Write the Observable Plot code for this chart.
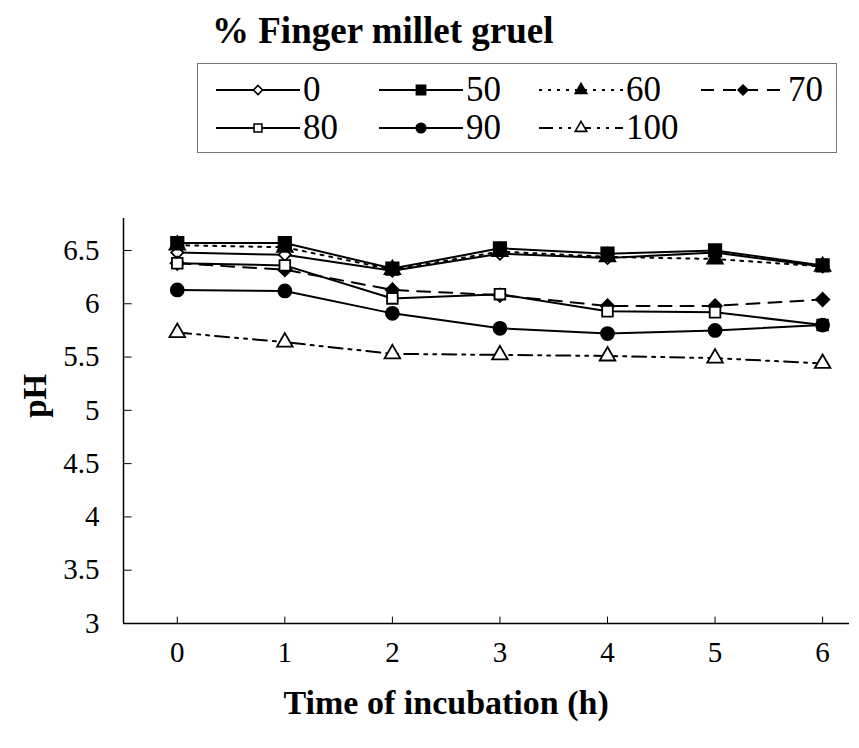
<!DOCTYPE html>
<html><head><meta charset="utf-8">
<script src="https://cdn.jsdelivr.net/npm/d3@7"></script>
<script src="https://cdn.jsdelivr.net/npm/@observablehq/plot@0.6"></script>
<style>
body{margin:0;background:#fff;font-family:"Liberation Serif","Times New Roman",serif;color:#000;}
#header{position:relative;height:190px;width:859px;}
#title{position:absolute;left:212px;top:12px;font-weight:bold;font-size:37px;line-height:1;white-space:nowrap;}
#legend{position:absolute;left:197px;top:63px;width:640px;height:90px;border:1px solid #777;box-sizing:border-box;}
.item{position:absolute;display:flex;align-items:center;font-size:35px;line-height:1;white-space:nowrap;}
.item svg{display:block;margin-right:3px;}
#chart svg{display:block;}
#chart svg, #chart svg text{font-family:"Liberation Serif","Times New Roman",serif !important;}
</style></head>
<body>
<div id="header">
  <div id="title">% Finger millet gruel</div>
  <div id="legend"></div>
</div>
<div id="chart"></div>
<script>
// Data
const hours = [0, 1, 2, 3, 4, 5, 6];
const seriesNames = ["0", "50", "60", "70", "80", "90", "100"];
const ph0   = [6.48, 6.46, 6.31, 6.47, 6.43, 6.48, 6.35];
const ph50  = [6.57, 6.57, 6.33, 6.52, 6.47, 6.50, 6.36];
const ph60  = [6.55, 6.53, 6.32, 6.49, 6.44, 6.42, 6.35];
const ph70  = [6.38, 6.32, 6.13, 6.08, 5.98, 5.98, 6.04];
const ph80  = [6.38, 6.36, 6.05, 6.09, 5.93, 5.92, 5.80];
const ph90  = [6.13, 6.12, 5.91, 5.77, 5.72, 5.75, 5.80];
const ph100 = [5.73, 5.64, 5.53, 5.52, 5.51, 5.49, 5.44];
const seriesValues = [ph0, ph50, ph60, ph70, ph80, ph90, ph100];
const yTicks = [3, 3.5, 4, 4.5, 5, 5.5, 6, 6.5];
const xLabel = "Time of incubation (h)";
const yLabel = "pH";

// Styles (kept separate from data)
const styles = {
  "0":   {dash: null,             symbol: "diamond2", fill: "white", r: 5.5},
  "50":  {dash: null,             symbol: "square",   fill: "black", r: 7},
  "60":  {dash: "3,6",            symbol: "triangle", fill: "black", r: 5.8},
  "70":  {dash: "13,9",           symbol: "diamond2", fill: "black", r: 6},
  "80":  {dash: null,             symbol: "square",   fill: "white", r: 6},
  "90":  {dash: null,             symbol: "circle",   fill: "black", r: 6.5},
  "100": {dash: "14,6,3,6,3,6",   symbol: "triangle", fill: "white", r: 5.8}
};

const FONT = "'Liberation Serif', 'Times New Roman', serif";
const rows = seriesNames.map((name, i) => hours.map((h, j) => ({series: name, h, v: seriesValues[i][j]})));

const marks = [];
rows.forEach((data, i) => {
  const s = styles[seriesNames[i]];
  marks.push(Plot.line(data, {x: "h", y: "v", stroke: "black", strokeWidth: 2, strokeDasharray: s.dash}));
});
rows.forEach((data, i) => {
  const s = styles[seriesNames[i]];
  marks.push(Plot.dot(data, {x: "h", y: "v", symbol: s.symbol, r: s.r, fill: s.fill, stroke: "black", strokeWidth: 1.8}));
});

const chart = Plot.plot({
  width: 859,
  height: 558,
  marginTop: 28,
  marginBottom: 125,
  marginLeft: 123,
  marginRight: 10,
  x: {domain: [-0.5, 6.25]},
  y: {domain: [3, 6.8]},
  style: {fontFamily: FONT, fontSize: "29px", color: "black", background: "white"},
  marks: [
    Plot.axisY(yTicks, {tickSize: 0, tickPadding: 24, tickFormat: d => String(d), label: null, fontSize: 29, fontFamily: FONT}),
    Plot.axisX(hours, {tickSize: 0, tickPadding: 18, tickFormat: d => String(d), label: null, fontSize: 29, fontFamily: FONT}),
    Plot.ruleY(yTicks, {y: d => d, x1: -0.5, x2: -0.42, stroke: "black", strokeWidth: 1}),
    Plot.ruleX(hours, {x: d => d, y1: 3, y2: 3.06, stroke: "black", strokeWidth: 1}),
    Plot.ruleX([-0.5], {stroke: "black", strokeWidth: 1.5}),
    Plot.ruleY([3], {stroke: "black", strokeWidth: 1.5}),
    ...marks,
    Plot.text([xLabel], {x: 2.5, frameAnchor: "bottom", dy: 90, fontWeight: "bold", fontSize: 34, fontFamily: FONT}),
    Plot.text([yLabel], {y: 4.93, frameAnchor: "left", dx: -88, rotate: -90, fontWeight: "bold", fontSize: 33, fontFamily: FONT})
  ]
});
document.getElementById("chart").appendChild(chart);

// Legend (HTML, symbols drawn with d3 symbols)
const legend = document.getElementById("legend");
const colX = [18, 181, 341, 503];
const rowY = [24, 62];
const symMap = {diamond2: d3.symbolDiamond2, square: d3.symbolSquare, triangle: d3.symbolTriangle, circle: d3.symbolCircle};
seriesNames.forEach((name, i) => {
  const s = styles[name];
  const item = document.createElement("div");
  item.className = "item";
  const col = i < 4 ? i : i - 4;
  const row = i < 4 ? 0 : 1;
  item.style.left = colX[col] + "px";
  item.style.top = (rowY[row] - 16) + "px";
  const w = 84, h = 32;
  const svg = d3.create("svg").attr("width", w).attr("height", h);
  svg.append("line").attr("x1", 0).attr("x2", w).attr("y1", h / 2).attr("y2", h / 2)
    .attr("stroke", "black").attr("stroke-width", 2).attr("stroke-dasharray", s.dash);
  const area = Math.PI * s.r * s.r * 0.55;
  svg.append("path").attr("d", d3.symbol(symMap[s.symbol], area)())
    .attr("transform", `translate(${w / 2},${h / 2})`)
    .attr("fill", s.fill).attr("stroke", "black").attr("stroke-width", 1.6);
  item.appendChild(svg.node());
  const lab = document.createElement("span");
  lab.textContent = name;
  item.appendChild(lab);
  legend.appendChild(item);
});
</script>
</body></html>
